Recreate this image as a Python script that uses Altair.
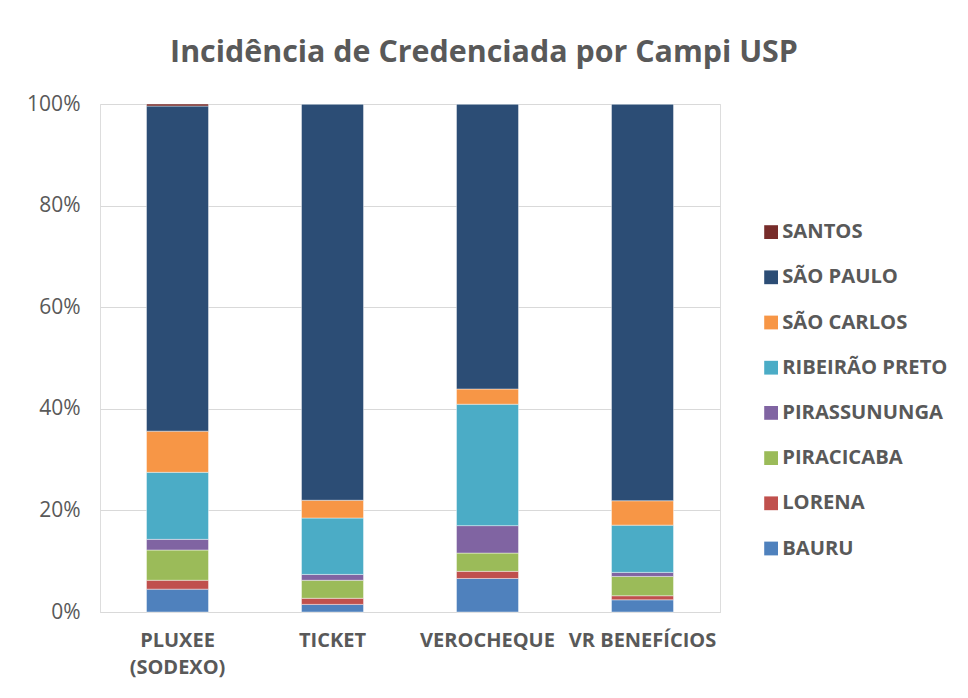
import altair as alt
import pandas as pd

categories = ["PLUXEE (SODEXO)", "TICKET", "VEROCHEQUE", "VR BENEFÍCIOS"]
campi = ["BAURU", "LORENA", "PIRACICABA", "PIRASSUNUNGA", "RIBEIRÃO PRETO",
         "SÃO CARLOS", "SÃO PAULO", "SANTOS"]
colors = ["#4F81BD", "#C0504D", "#9BBB59", "#8064A2", "#4BACC6",
          "#F79646", "#2C4D75", "#772C2A"]

bauru = [4.5, 1.5, 6.6, 2.4]
lorena = [1.75, 1.2, 1.4, 0.8]
piracicaba = [5.95, 3.55, 3.6, 3.8]
pirassununga = [2.1, 1.15, 5.4, 0.8]
ribeirao = [13.2, 11.1, 23.9, 9.3]
sao_carlos = [8.1, 3.5, 3.0, 4.8]
sao_paulo = [64.0, 78.0, 56.1, 78.1]
santos = [0.4, 0.0, 0.0, 0.0]

series = [bauru, lorena, piracicaba, pirassununga, ribeirao, sao_carlos, sao_paulo, santos]

rows = []
for i, (name, vals) in enumerate(zip(campi, series)):
    for c, v in zip(categories, vals):
        rows.append({"cat": c, "campus": name, "value": v / 100.0, "idx": i})
df = pd.DataFrame(rows)

FONT = "Open Sans"
GRAY = "#595959"

chart = alt.Chart(df).mark_bar(stroke="#ffffff", strokeWidth=0.6, strokeOpacity=0.7).encode(
    x=alt.X("cat:N", sort=categories,
            scale=alt.Scale(paddingInner=0.6, paddingOuter=0.3),
            axis=alt.Axis(title=None, labelAngle=0, labelFontSize=20, labelFontWeight="bold",
                          labelColor=GRAY, labelFont=FONT, ticks=False, labelPadding=18,
                          domainColor="#d9d9d9", domainWidth=1, labelLineHeight=27,
                          labelExpr="datum.label == 'PLUXEE (SODEXO)' ? ['PLUXEE', '(SODEXO)'] : datum.label")),
    y=alt.Y("value:Q", stack="zero",
            scale=alt.Scale(domain=[0, 1]),
            axis=alt.Axis(title=None, format=".0%", values=[0, 0.2, 0.4, 0.6, 0.8, 1.0],
                          labelFontSize=21, labelColor=GRAY, labelFont=FONT, ticks=False,
                          domain=False, gridColor="#d9d9d9", gridWidth=1, labelPadding=20)),
    color=alt.Color("campus:N",
                    scale=alt.Scale(domain=campi[::-1], range=colors[::-1]),
                    legend=alt.Legend(title=None, orient="none", legendX=661, legendY=118,
                                      symbolType="square", symbolSize=190, symbolStrokeWidth=0,
                                      labelFontSize=20.2, labelFontWeight="bold", labelColor=GRAY,
                                      labelFont=FONT, rowPadding=24.2, labelOffset=1,
                                      labelLimit=300)),
    order=alt.Order("idx:Q", sort="ascending"),
).properties(
    width=620, height=508,
    title=alt.TitleParams("Incidência de Credenciada por Campi USP", fontSize=30.4, font=FONT,
                          fontWeight="bold", color=GRAY, anchor="middle", dx=74, offset=25),
    autosize=alt.AutoSizeParams(type="none"),
    padding={"left": 92, "top": 96, "right": 240, "bottom": 70},
).configure_view(stroke=None).configure(background="#ffffff")

chart.save("out.html", embed_options={"renderer": "svg", "actions": False})
